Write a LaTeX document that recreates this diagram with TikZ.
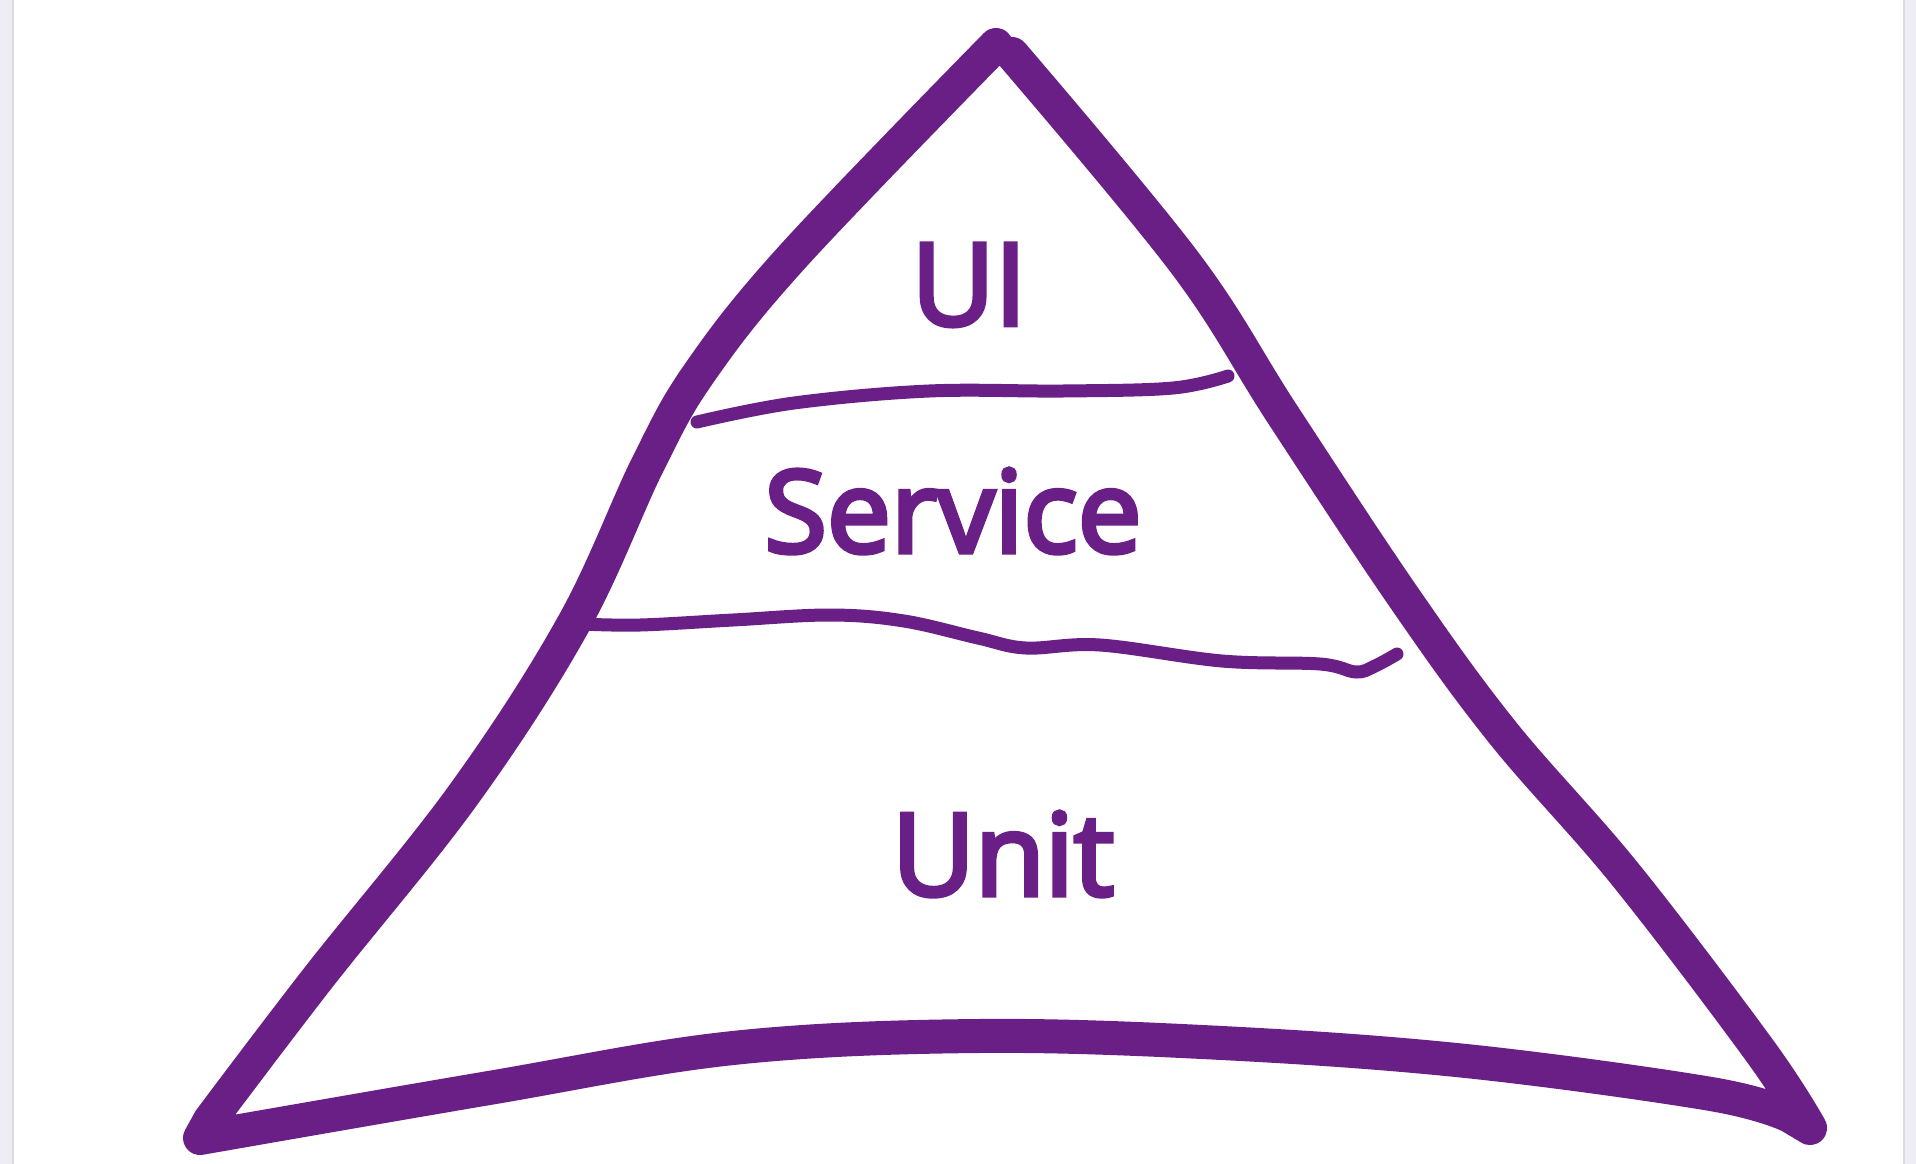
\documentclass[tikz,border=0pt]{standalone}
\usepackage{fontspec}
\setmainfont{Open Sans}
\newfontfamily\hand[FakeBold=4]{Open Sans}
\definecolor{pen}{HTML}{6A1F86}
\definecolor{side}{HTML}{EEECF4}
\definecolor{sideline}{HTML}{DCDAE2}
\begin{document}
\begin{tikzpicture}[x=1pt,y=-1pt,
  outline/.style={draw=pen,line width=34pt,line cap=round,line join=round},
  divider/.style={draw=pen,line width=13pt,line cap=round,line join=round},
  label/.style={text=pen,inner sep=0pt,font=\hand\fontsize{114}{120}\selectfont}]
\useasboundingbox (0,0) rectangle (1916,1164);
\fill[white] (0,0) rectangle (1916,1164);
\fill[side] (0,0) rectangle (12,1164);
\fill[sideline] (12,0) rectangle (14,1164);
\fill[side] (1905,0) rectangle (1916,1164);
\fill[sideline] (1903,0) rectangle (1905,1164);
% outline: right side, bottom, left side
\draw[outline]
  plot[smooth,tension=0.6] coordinates {(1012,54) (1185,263) (1283,415) (1405,599) (1503,733) (1625,874) (1760,1051) (1810,1128)}
  -- plot[smooth,tension=0.6] coordinates {(1790,1116) (1711,1094) (1466,1061) (1222,1043) (978,1036) (733,1048) (489,1088) (200,1138)}
  -- plot[smooth,tension=0.6] coordinates {(210,1120) (318,978) (464,794) (574,623) (648,464) (700,372) (794,255) (996,45)};
% dividers
\draw[divider] plot[smooth,tension=0.6] coordinates {(697,422) (794,403) (929,391) (1063,391) (1173,388) (1228,376)};
\draw[divider] plot[smooth,tension=0.6] coordinates {(582,624) (640,625) (733,620) (831,615) (904,621) (978,638) (1026,648) (1100,645) (1222,661) (1320,664) (1356,672) (1375,666) (1397,654)};
% labels
\node[label] (ui) at (969,285) {UI};
\node[label] (service) at (953,511) {Service};
\node[label] (unit) at (1003,854) {Unit};
\end{tikzpicture}
\end{document}
